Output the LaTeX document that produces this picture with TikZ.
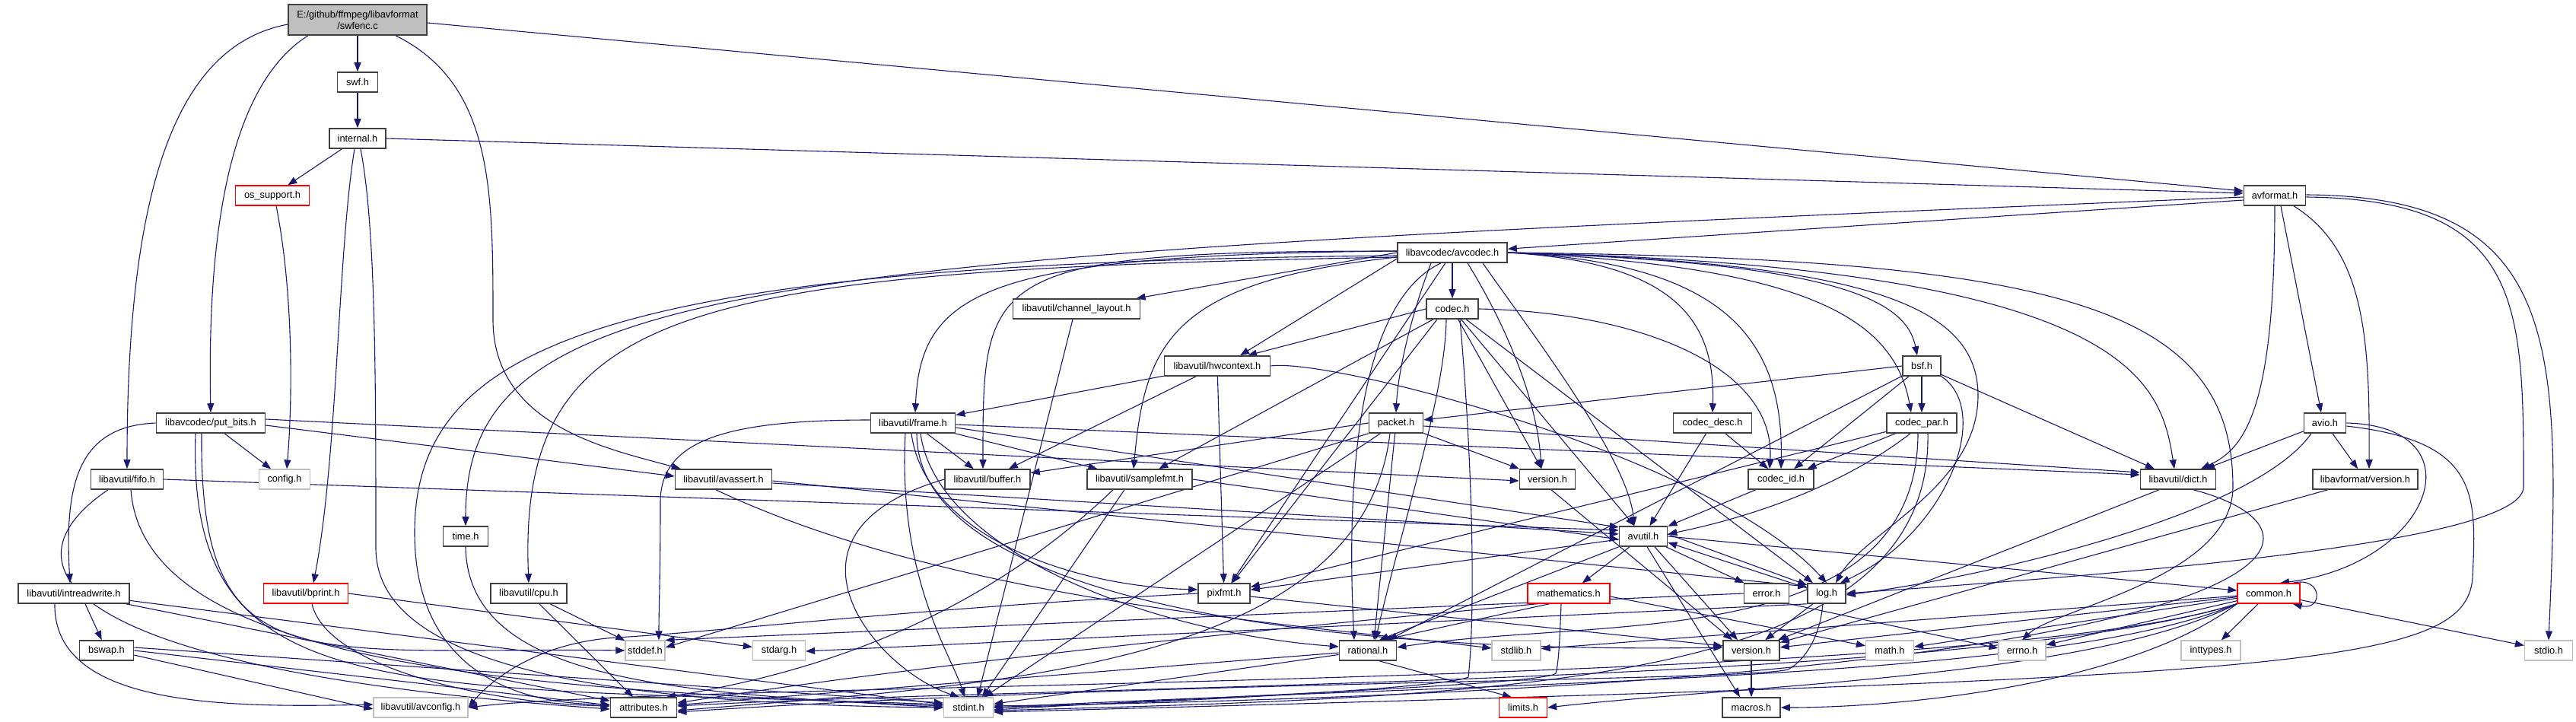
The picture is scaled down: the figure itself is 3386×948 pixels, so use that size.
\documentclass[tikz,border=0pt]{standalone}
\usepackage{fontspec}
\setmainfont{Liberation Sans}
\usetikzlibrary{arrows.meta}
\pgfdeclarelayer{bg}
\pgfsetlayers{bg,main}
\definecolor{edgec}{HTML}{191970}
\definecolor{boxd}{HTML}{404040}
\definecolor{boxg}{HTML}{BFBFBF}
\definecolor{boxr}{HTML}{FF0000}
\begin{document}
\begin{tikzpicture}[x=1pt,y=-1pt,
  nd/.style={draw=boxd,line width=1.6pt,fill=white,minimum height=26pt,inner sep=0pt,font=\fontsize{12.8}{15}\selectfont},
  gr/.style={nd,draw=boxg,line width=1.2pt},
  rd/.style={nd,draw=boxr,line width=1.2pt},
  ed/.style={draw=edgec,line width=1.1pt,-{Triangle[length=12pt,width=9pt]}}]
\useasboundingbox (0,0) rectangle (3386,948);
% nodes
\node[nd,fill=boxg,minimum width=182pt,minimum height=40pt,align=center] (swfenc) at (470,26) {E:/github/ffmpeg/libavformat\\/swfenc.c};
\node[nd,minimum width=53pt] (swf) at (470,108) {swf.h};
\node[nd,minimum width=74pt] (internal) at (470,182) {internal.h};
\node[rd,minimum width=97pt] (ossupport) at (358,257) {os\_support.h};
\node[nd,minimum width=81pt] (avformat) at (2990,257) {avformat.h};
\node[nd,minimum width=144pt] (avcodec) at (1909,332) {libavcodec/avcodec.h};
\node[nd,minimum width=167pt] (chlayout) at (1415,406) {libavutil/channel\_layout.h};
\node[nd,minimum width=68pt] (codec) at (1909,406) {codec.h};
\node[nd,minimum width=139pt] (hwcontext) at (1600,481) {libavutil/hwcontext.h};
\node[nd,minimum width=50pt] (bsf) at (2526,481) {bsf.h};
\node[nd,minimum width=143pt] (putbits) at (277,556) {libavcodec/put\_bits.h};
\node[nd,minimum width=111pt] (frame) at (1200,556) {libavutil/frame.h};
\node[nd,minimum width=71pt] (packet) at (1835,556) {packet.h};
\node[nd,minimum width=103pt] (codecdesc) at (2251,556) {codec\_desc.h};
\node[nd,minimum width=92pt] (codecpar) at (2526,556) {codec\_par.h};
\node[nd,minimum width=55pt] (avio) at (3056,556) {avio.h};
\node[nd,minimum width=95pt] (fifo) at (167,630) {libavutil/fifo.h};
\node[gr,minimum width=67pt] (config) at (374,630) {config.h};
\node[nd,minimum width=127pt] (avassert) at (951,630) {libavutil/avassert.h};
\node[nd,minimum width=112pt] (buffer) at (1298,630) {libavutil/buffer.h};
\node[nd,minimum width=138pt] (samplefmt) at (1498,630) {libavutil/samplefmt.h};
\node[nd,minimum width=73pt] (lcversion) at (2034,630) {version.h};
\node[nd,minimum width=86pt] (codecid) at (2341,630) {codec\_id.h};
\node[nd,minimum width=99pt] (dict) at (2863,630) {libavutil/dict.h};
\node[nd,minimum width=138pt] (lfversion) at (3109,630) {libavformat/version.h};
\node[nd,minimum width=59pt] (time) at (612,705) {time.h};
\node[nd,minimum width=63pt] (avutil) at (2160,705) {avutil.h};
\node[nd,minimum width=146pt] (intreadwrite) at (97,780) {libavutil/intreadwrite.h};
\node[rd,minimum width=111pt] (bprint) at (402,780) {libavutil/bprint.h};
\node[nd,minimum width=100pt] (cpu) at (695,780) {libavutil/cpu.h};
\node[nd,minimum width=68pt] (pixfmt) at (1609,780) {pixfmt.h};
\node[rd,minimum width=108pt] (mathematics) at (2062,780) {mathematics.h};
\node[nd,minimum width=59pt] (error) at (2322,780) {error.h};
\node[nd,minimum width=50pt] (log) at (2401,780) {log.h};
\node[rd,minimum width=82pt] (common) at (2982,780) {common.h};
\node[nd,minimum width=71pt] (bswap) at (140,855) {bswap.h};
\node[gr,minimum width=52pt] (stddef) at (848,855) {stddef.h};
\node[gr,minimum width=69pt] (stdarg) at (1024,855) {stdarg.h};
\node[nd,minimum width=75pt] (rational) at (1798,855) {rational.h};
\node[gr,minimum width=64pt] (stdlib) at (1993,855) {stdlib.h};
\node[nd,minimum width=74pt] (uversion) at (2302,855) {version.h};
\node[gr,minimum width=63pt] (math) at (2484,855) {math.h};
\node[gr,minimum width=62pt] (errno) at (2658,855) {errno.h};
\node[gr,minimum width=78pt] (inttypes) at (2906,855) {inttypes.h};
\node[gr,minimum width=63pt] (stdio) at (3350,855) {stdio.h};
\node[gr,minimum width=124pt] (avconfig) at (553,930) {libavutil/avconfig.h};
\node[nd,minimum width=87pt] (attributes) at (846,930) {attributes.h};
\node[gr,minimum width=65pt] (stdint) at (1273,930) {stdint.h};
\node[rd,minimum width=63pt] (limits) at (2002,930) {limits.h};
\node[nd,minimum width=76pt] (macros) at (2302,930) {macros.h};
% waypoints
\coordinate (wpA) at (545,700);
\coordinate (wpB) at (648,420);
\coordinate (wpC) at (494,720);
\coordinate (wpD) at (3317,640);
\coordinate (wpE) at (2600,520);
\coordinate (wpF) at (2935,640);
\coordinate (wpG) at (1930,890);
\coordinate (wpH) at (868,660);
\coordinate (wpJ) at (3250,760);
\coordinate (wpK) at (2045,885);
\coordinate (wpL) at (2350,880);
\coordinate (wpM) at (810,838);
\begin{pgfonlayer}{bg}
\fill[white] (0,0) rectangle (3386,948);
% swfenc
\draw[ed] (swfenc) -- (swf);
\draw[ed] ([yshift=-4]swfenc.east) -- ([yshift=6]avformat.west);
\draw[ed] ([yshift=-6]swfenc.west) .. controls (230,60) and (167,250) .. (fifo.north);
\draw[ed] ([xshift=-65]swfenc.south) .. controls (320,100) and (271,250) .. (putbits.north);
\draw[ed] ([xshift=50]swfenc.south) .. controls (648,110) and (648,250) .. (wpB) .. controls (648,560) and (800,590) .. ([xshift=8]avassert.north west);
% swf, internal, os_support
\draw[ed] (swf) -- (internal);
\draw[ed] (internal) -- (ossupport);
\draw[ed] (internal.east) -- ([yshift=3]avformat.west);
\draw[ed] ([xshift=-4]internal.south) .. controls (444,330) and (444,600) .. ([xshift=10]bprint.north);
\draw[ed] ([xshift=4]internal.south) .. controls (494,300) and (494,500) .. (wpC) .. controls (494,850) and (700,925) .. (stdint.west);
\draw[ed] ([xshift=5]ossupport.south) .. controls (385,380) and (385,520) .. ([xshift=3]config.north);
% avformat
\draw[ed] ([yshift=-6]avformat.west) -- (avcodec);
\draw[ed] ([yshift=-2]avformat.west) .. controls (1000,340) and (612,360) .. (time.north);
\draw[ed] (avformat.south) .. controls (2990,540) and (2950,590) .. ([xshift=30]dict.north);
\draw[ed] ([xshift=8]avformat.south) -- ([xshift=-5]avio.north);
\draw[ed] ([xshift=25]avformat.south) .. controls (3110,330) and (3115,450) .. ([xshift=5]lfversion.north);
\draw[ed] ([yshift=-2]avformat.east) .. controls (3317,262) and (3317,400) .. (wpD) .. controls (3317,720) and (2700,760) .. (log.east);
\draw[ed] ([yshift=1]avformat.east) .. controls (3367,258) and (3367,450) .. (stdio.north);
% avcodec
\draw[ed] (avcodec.west) -- (chlayout);
\draw[ed] (avcodec) -- (codec);
\draw[ed] ([yshift=2]avcodec.west) .. controls (1300,335) and (1210,380) .. ([xshift=3]frame.north);
\draw[ed] ([yshift=2]avcodec.west) .. controls (1290,330) and (1292,360) .. ([xshift=-6]buffer.north);
\draw[ed] ([yshift=-8]avcodec.west) -- ([xshift=30]hwcontext.north);
\draw[ed] ([yshift=-6]avcodec.west) .. controls (1540,370) and (1505,450) .. ([xshift=-8]samplefmt.north);
\draw[ed] ([yshift=-4]avcodec.west) .. controls (800,345) and (545,450) .. (wpA) .. controls (545,860) and (650,925) .. ([yshift=4]attributes.west);
\draw[ed] ([yshift=-6]avcodec.west) .. controls (900,355) and (680,400) .. (cpu.north);
\draw[ed] (avcodec) -- (pixfmt);
\draw[ed] ([xshift=-15]avcodec.south) .. controls (1780,400) and (1770,650) .. ([xshift=-18]rational.north);
\draw[ed] ([xshift=-28]avcodec.south) .. controls (1860,400) and (1838,480) .. (packet.north);
\draw[ed] ([xshift=40]avcodec.south) .. controls (2000,420) and (2140,600) .. ([xshift=-12]avutil.north);
\draw[ed] ([xshift=20]avcodec.south) .. controls (1975,420) and (2020,520) .. ([xshift=-8]lcversion.north);
\draw[ed] (avcodec.east) .. controls (2200,345) and (2255,420) .. (codecdesc.north);
\draw[ed] (avcodec.east) .. controls (2260,345) and (2345,440) .. (codecid.north);
\draw[ed] (avcodec.east) .. controls (2380,350) and (2490,420) .. ([xshift=-14]codecpar.north);
\draw[ed] (avcodec.east) .. controls (2400,345) and (2505,390) .. ([xshift=-6]bsf.north);
\draw[ed] (avcodec.east) .. controls (2450,345) and (2600,400) .. (wpE) .. controls (2600,640) and (2450,700) .. ([xshift=12]log.north);
\draw[ed] (avcodec.east) .. controls (2800,350) and (2840,500) .. ([xshift=-5]dict.north);
\draw[ed] (avcodec.east) .. controls (2700,340) and (2935,400) .. (wpF) .. controls (2935,760) and (2700,800) .. (errno.north);
% codec
\draw[ed] (codec.west) -- ([xshift=40]hwcontext.north);
\draw[ed] (codec) -- (samplefmt);
\draw[ed] ([xshift=-20]codec.south) -- (pixfmt);
\draw[ed] (codec) -- (avutil);
\draw[ed] (codec) -- (log);
\draw[ed] (codec) -- (lcversion);
\draw[ed] ([xshift=-8]codec.south) .. controls (1900,520) and (1840,700) .. ([xshift=10]rational.north);
\draw[ed] (codec.east) .. controls (2150,410) and (2335,480) .. ([xshift=-15]codecid.north);
\draw[ed] ([xshift=10]codec.south) .. controls (1935,600) and (1940,800) .. (wpG) .. controls (1900,905) and (1500,925) .. (stdint.east);
% channel layout, hwcontext
\draw[ed] ([xshift=-5]chlayout.south) -- ([xshift=12]stdint.north);
\draw[ed] (hwcontext) -- (frame);
\draw[ed] (hwcontext) -- (buffer);
\draw[ed] (hwcontext) -- (pixfmt);
\draw[ed] (hwcontext.east) .. controls (1750,470) and (2250,600) .. (log.north);
% bsf
\draw[ed] (bsf.west) -- (packet);
\draw[ed] (bsf) -- (codecpar);
\draw[ed] (bsf) -- (codecid);
\draw[ed] (bsf) -- (dict);
\draw[ed] (bsf.south east) .. controls (2620,540) and (2560,700) .. ([xshift=18]log.north);
\draw[ed] (bsf) -- (rational);
% put_bits
\draw[ed] (putbits.west) .. controls (100,560) and (85,640) .. ([xshift=-5]intreadwrite.north);
\draw[ed] (putbits) -- (config);
\draw[ed] ([yshift=5]putbits.east) -- ([yshift=-2]lcversion.west);
\draw[ed] ([yshift=-3]putbits.east) -- ([yshift=4]avassert.west);
\draw[ed] ([xshift=-20]putbits.south) .. controls (245,930) and (500,900) .. ([yshift=4]stdint.west);
\draw[ed] ([xshift=-12]putbits.south) .. controls (262,900) and (400,850) .. (stddef.west);
% fifo
\draw[ed] (fifo.east) -- ([yshift=8]avutil.west);
\draw[ed] ([xshift=-25]fifo.south) .. controls (0,740) and (60,880) .. ([yshift=-2]attributes.west);
\draw[ed] ([xshift=5]fifo.south) .. controls (190,880) and (700,905) .. ([yshift=2]stdint.west);
% avassert
\draw[ed] ([xshift=-10]avassert.south) .. controls (1250,790) and (1700,820) .. ([yshift=3]stdlib.west);
\draw[ed] ([yshift=-5]avassert.east) -- ([yshift=3]avutil.west);
\draw[ed] ([yshift=-2]avassert.east) -- ([yshift=9]log.west);
% time
\draw[ed] (time.south) .. controls (615,900) and (900,910) .. (stdint.west);
% intreadwrite, bswap
\draw[ed] ([xshift=15]intreadwrite.south) -- (bswap);
\draw[ed] ([xshift=-25]intreadwrite.south) .. controls (70,930) and (300,930) .. ([yshift=4]avconfig.west);
\draw[ed] (intreadwrite) -- (attributes);
\draw[ed] (intreadwrite) -- (stdint);
\draw[ed] ([yshift=-6]bswap.east) -- ([yshift=-2]avconfig.west);
\draw[ed] (bswap.east) -- ([yshift=3]attributes.west);
\draw[ed] ([yshift=4]bswap.east) -- ([yshift=6]stdint.west);
% bprint, cpu
\draw[ed] (bprint.east) -- (stdarg);
\draw[ed] ([xshift=8]bprint.south) .. controls (430,880) and (650,925) .. ([yshift=2]attributes.west);
\draw[ed] (cpu) -- (stddef);
\draw[ed] (cpu) -- (attributes);
% frame
\draw[ed] (frame) -- (buffer);
\draw[ed] (frame) -- (samplefmt);
\draw[ed] ([yshift=-2]frame.east) -- ([yshift=6]dict.west);
\draw[ed] ([yshift=-6]frame.east) -- ([yshift=12]avutil.west);
\draw[ed] ([xshift=-2]frame.south) .. controls (1215,700) and (1400,770) .. ([yshift=5]pixfmt.west);
\draw[ed] ([xshift=10]frame.south) .. controls (1230,720) and (1500,830) .. ([yshift=5]rational.west);
\draw[ed] ([xshift=5]frame.south) .. controls (1205,780) and (1700,860) .. ([yshift=4]uversion.west);
\draw[ed] ([yshift=4]frame.west) .. controls (950,552) and (868,580) .. (wpH) .. controls (868,760) and (866,800) .. ([xshift=18]stddef.north);
\draw[ed] ([xshift=-10]frame.south) .. controls (1180,760) and (1250,860) .. ([xshift=-5]stdint.north);
% packet
\draw[ed] (packet.west) -- (buffer);
\draw[ed] ([yshift=-4]packet.east) -- ([yshift=9]dict.west);
\draw[ed] (packet) -- (lcversion);
\draw[ed] (packet) -- ([xshift=8]rational.north);
\draw[ed] (packet) -- (stdint);
\draw[ed] (packet.south west) -- ([yshift=4]stddef.east);
\draw[ed] ([xshift=-8]packet.south) .. controls (1790,880) and (1300,900) .. ([yshift=-4]attributes.east);
% codec_desc, codec_par, codec_id, version
\draw[ed] (codecdesc) -- (avutil);
\draw[ed] (codecdesc) -- (codecid);
\draw[ed] (codecpar) -- (codecid);
\draw[ed] ([xshift=-15]codecpar.south) .. controls (2420,640) and (2300,680) .. ([yshift=3]avutil.east);
\draw[ed] (codecpar) -- (pixfmt);
\draw[ed] ([xshift=-5]codecpar.south) .. controls (2520,860) and (2100,810) .. ([yshift=4]rational.east);
\draw[ed] ([xshift=8]codecpar.south) .. controls (2540,900) and (2000,915) .. ([yshift=-4]stdint.east);
\draw[ed] (codecid) -- (avutil);
\draw[ed] ([xshift=5]lcversion.south) -- ([xshift=-25]uversion.north);
% samplefmt, buffer
\draw[ed] (samplefmt.east) -- ([yshift=-4]avutil.west);
\draw[ed] ([xshift=-20]samplefmt.south) -- ([xshift=18]stdint.north);
\draw[ed] ([xshift=-35]samplefmt.south) .. controls (1300,800) and (1100,880) .. ([xshift=30]attributes.north);
\draw[ed] (buffer.west) .. controls (1000,700) and (1150,880) .. ([xshift=-12]stdint.north);
% dict, lfversion, avio
\draw[ed] ([xshift=-25]dict.south) -- (uversion);
\draw[ed] ([xshift=20]dict.south) .. controls (3100,700) and (3060,900) .. ([yshift=2]stdint.east);
\draw[ed] (lfversion) -- (uversion);
\draw[ed] (avio) -- (dict);
\draw[ed] (avio) -- (lfversion);
\draw[ed] ([xshift=-18]avio.south) .. controls (2960,680) and (2600,760) .. ([yshift=-2]log.east);
\draw[ed] (avio.east) .. controls (3260,560) and (3200,740) .. ([xshift=15]common.north);
\draw[ed] ([yshift=-4]avio.east) .. controls (3260,580) and (3255,650) .. (wpJ) .. controls (3240,880) and (3000,890) .. ([yshift=-6]stdint.east);
% avutil
\draw[ed] (avutil) -- (mathematics);
\draw[ed] (avutil) -- (error);
\draw[ed] ([yshift=3]avutil.east) -- ([yshift=11]log.west);
\draw[ed] ([yshift=7]log.west) -- ([yshift=-8]avutil.east);
\draw[ed] ([xshift=15]avutil.south) -- ([xshift=-18]uversion.north);
\draw[ed] ([xshift=5]avutil.south) -- ([xshift=-15]macros.north);
\draw[ed] (avutil.south west) -- ([xshift=15]rational.north);
\draw[ed] ([yshift=-4]avutil.west) -- (pixfmt);
\draw[ed] (avutil.east) -- (common);
% mathematics
\draw[ed] ([xshift=-25]mathematics.south) -- ([xshift=20]rational.north);
\draw[ed] ([yshift=-4]mathematics.east) -- (math);
\draw[ed] ([xshift=-10]mathematics.south) .. controls (2050,850) and (2048,875) .. (wpK) .. controls (2030,900) and (1600,915) .. ([yshift=-3]stdint.east);
\draw[ed] ([xshift=-40]mathematics.south) .. controls (1850,810) and (1300,860) .. ([yshift=6]attributes.east);
% error, log
\draw[ed] (error.south east) -- ([yshift=3]errno.west);
\draw[ed] (error.west) -- (stddef.north east);
\draw[ed] (log) -- (uversion);
\draw[ed] (log.south west) -- ([yshift=-1]stdarg.east);
\draw[ed] ([xshift=-5]log.south) .. controls (2392,840) and (2370,870) .. (wpL) .. controls (2300,895) and (1500,895) .. ([yshift=-6]attributes.east);
% common
\draw[ed] (common) -- (errno);
\draw[ed] (common) -- (inttypes);
\draw[ed] (common) -- (stdio);
\draw[ed] (common) -- (math);
\draw[ed] (common) -- (uversion);
\draw[ed] (common) -- (stdlib);
\draw[ed] (common.south west) .. controls (2750,890) and (2300,900) .. (limits.east);
\draw[ed] (common.south west) .. controls (2800,900) and (2500,930) .. (macros.east);
\draw[ed] (common.south west) .. controls (2700,895) and (2000,895) .. (stdint.east);
\draw[ed] (common.south west) .. controls (2600,900) and (1400,900) .. ([yshift=2]attributes.east);
\draw[ed] (common.south west) .. controls (2600,905) and (900,895) .. (avconfig.east);
\draw[ed] ([xshift=-10]common.north east) .. controls +(40,-10) and +(40,10) .. ([xshift=-10]common.south east);
% rational, version, pixfmt
\draw[ed] ([xshift=15]rational.south) -- ([xshift=-15]limits.north);
\draw[ed] (rational) -- (attributes);
\draw[ed] (rational) -- (stdint);
\draw[ed] (uversion) -- (macros);
\draw[ed] ([yshift=-4]pixfmt.east) -- ([yshift=6]uversion.west);
\draw[ed] (pixfmt.west) .. controls (1200,800) and (950,830) .. (wpM) .. controls (700,845) and (640,900) .. (avconfig.east);
\end{pgfonlayer}
\end{tikzpicture}
\end{document}
